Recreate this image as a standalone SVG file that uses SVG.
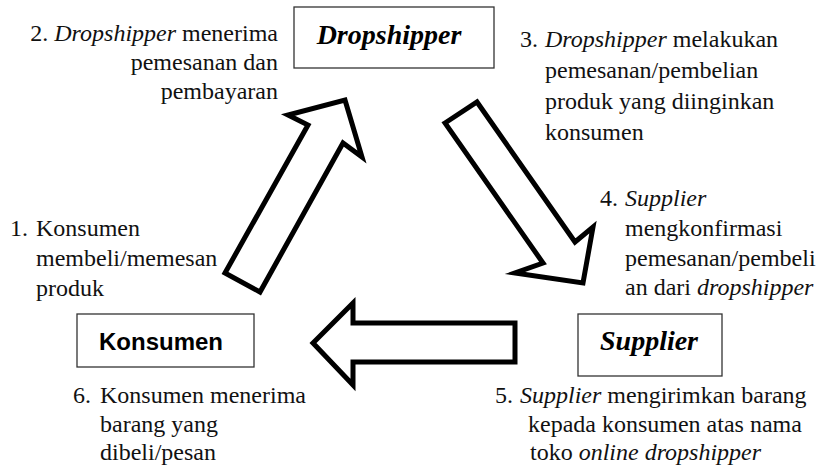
<svg xmlns="http://www.w3.org/2000/svg" width="828" height="471" viewBox="0 0 828 471">
<style>
.box{fill:#fff;stroke:#333;stroke-width:1.3}
.arrow{fill:#fff;stroke:#000;stroke-width:5;stroke-linejoin:miter;stroke-miterlimit:10}
.t{font-family:"Liberation Serif",Tinos,"Noto Serif","Times New Roman",Times,FreeSerif,"Nimbus Roman","Nimbus Roman No9 L","DejaVu Serif",serif;font-size:24px;fill:#111}
.lbl{font-family:"Liberation Serif",Tinos,"Noto Serif","Times New Roman",Times,FreeSerif,"Nimbus Roman","Nimbus Roman No9 L","DejaVu Serif",serif;font-size:28px;font-weight:bold;font-style:italic;fill:#000}
.lbls{font-family:"Liberation Sans",Arial,sans-serif;font-size:24px;font-weight:bold;fill:#000}
.i{font-style:italic}
</style>
<rect width="828" height="471" fill="#fff"/>
<g id="connectors">
<polygon class="arrow" points="225,273 308,125 288,115 345,100 362,157 343,143 260,292"/>
<polygon class="arrow" points="445,123 477,102 575,242 593,227 583,283 515,273 543,263"/>
<polygon class="arrow" points="313,343 353,303 353,323 515,323 515,362 353,362 353,385"/>
</g>
<g id="dropshipper">
<rect class="box" x="294" y="7" width="200" height="61"/>
<text class="lbl" x="389" y="44" text-anchor="middle">Dropshipper</text>
</g>
<g id="konsumen">
<rect class="box" x="77" y="314" width="177" height="53"/>
<text class="lbls" x="161" y="350" text-anchor="middle">Konsumen</text>
</g>
<g id="supplier">
<rect class="box" x="578" y="314" width="144" height="62"/>
<text class="lbl" x="649" y="350" text-anchor="middle">Supplier</text>
</g>
<g id="step1" class="t">
<text x="10" y="236">1.</text>
<text x="36" y="236">Konsumen</text>
<text x="36" y="266">membeli/memesan</text>
<text x="36" y="296">produk</text>
</g>
<g id="step2" class="t" text-anchor="end">
<text x="278" y="41">2. <tspan class="i">Dropshipper</tspan> menerima</text>
<text x="278" y="70">pemesanan dan</text>
<text x="278" y="99">pembayaran</text>
</g>
<g id="step3" class="t">
<text x="520" y="47">3.</text>
<text x="545" y="47"><tspan class="i">Dropshipper</tspan> melakukan</text>
<text x="545" y="78">pemesanan/pembelian</text>
<text x="545" y="109">produk yang diinginkan</text>
<text x="545" y="140">konsumen</text>
</g>
<g id="step4" class="t">
<text x="600" y="206">4.</text>
<text x="625" y="206" class="i">Supplier</text>
<text x="625" y="236">mengkonfirmasi</text>
<text x="625" y="266">pemesanan/pembeli</text>
<text x="625" y="295">an dari <tspan class="i">dropshipper</tspan></text>
</g>
<g id="step5" class="t">
<text x="495" y="403">5.</text>
<text x="520" y="403"><tspan class="i">Supplier</tspan> mengirimkan barang</text>
<text x="528" y="432">kepada konsumen atas nama</text>
<text x="530" y="460">toko <tspan class="i">online dropshipper</tspan></text>
</g>
<g id="step6" class="t">
<text x="73" y="403">6.</text>
<text x="100" y="403">Konsumen menerima</text>
<text x="100" y="432">barang yang</text>
<text x="100" y="460">dibeli/pesan</text>
</g>
</svg>
